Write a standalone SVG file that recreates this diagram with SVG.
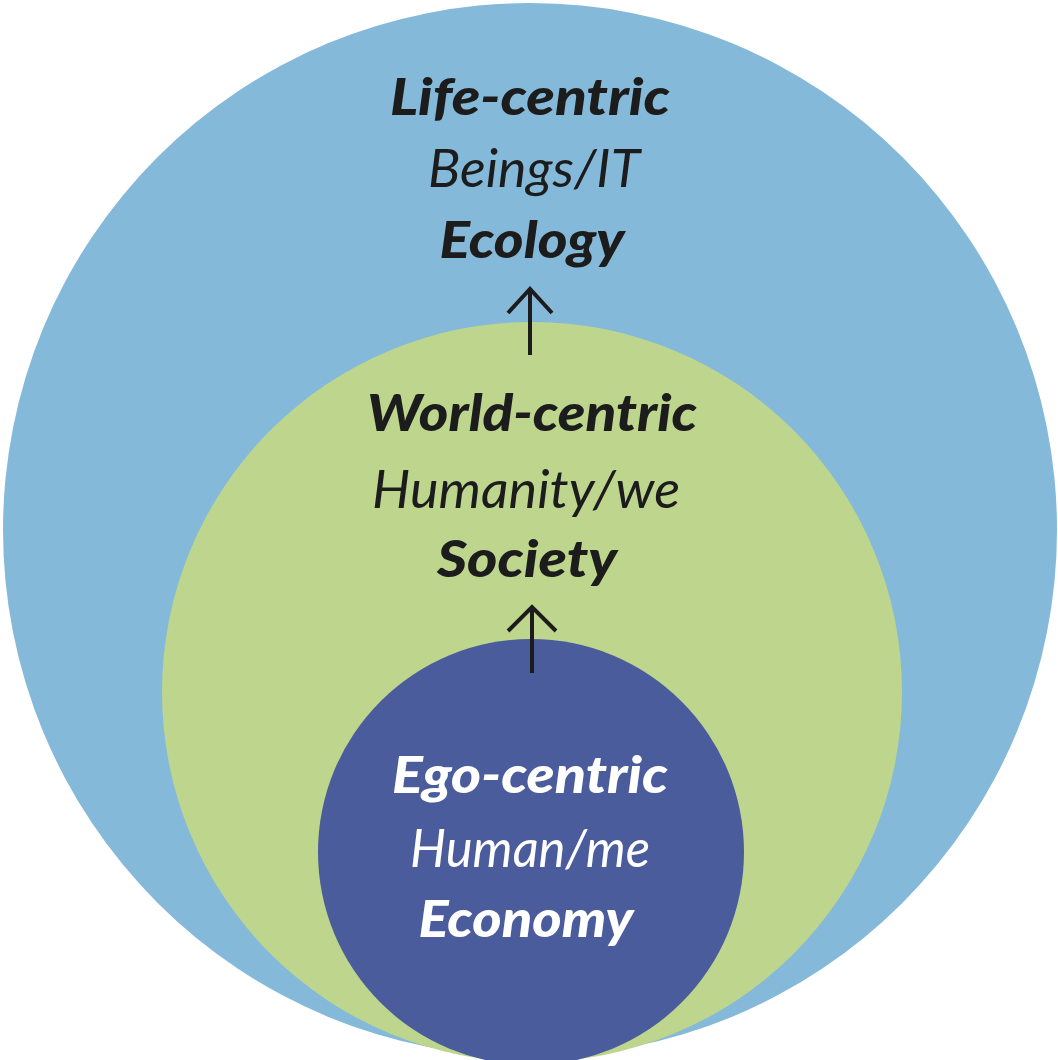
<svg xmlns="http://www.w3.org/2000/svg" width="1058" height="1060" viewBox="0 0 1058 1060">
<defs>
<style>
.t{font-family:"Lato","Open Sans","Liberation Sans",sans-serif;font-style:italic;text-anchor:middle;font-size:52px}
.b{font-weight:900}
.r{font-weight:400}
.dk{fill:#1c1c1c}
.wh{fill:#ffffff}
.arrow{stroke:#1c1c1c;stroke-width:4;fill:none;stroke-linecap:butt}
</style>
</defs>
<rect width="1058" height="1060" fill="#ffffff"/>
<g id="life">
<circle cx="530" cy="530" r="527" fill="#85b9da"/>
<text class="t b dk" x="530" y="115" textLength="280" lengthAdjust="spacingAndGlyphs">Life-centric</text>
<text class="t r dk" x="534" y="187" textLength="212" lengthAdjust="spacingAndGlyphs">Beings/IT</text>
<text class="t b dk" x="532" y="258" textLength="185" lengthAdjust="spacingAndGlyphs">Ecology</text>
</g>
<g id="world">
<circle cx="532" cy="692" r="370" fill="#bdd58d"/>
<text class="t b dk" x="532" y="431" textLength="330" lengthAdjust="spacingAndGlyphs">World-centric</text>
<text class="t r dk" x="526" y="508" textLength="308" lengthAdjust="spacingAndGlyphs">Humanity/we</text>
<text class="t b dk" x="527" y="577" textLength="180" lengthAdjust="spacingAndGlyphs">Society</text>
</g>
<g id="ego">
<circle cx="531" cy="852" r="213" fill="#4a5c9b"/>
<text class="t b wh" x="530" y="793" textLength="276" lengthAdjust="spacingAndGlyphs">Ego-centric</text>
<text class="t r wh" x="530" y="867" textLength="240" lengthAdjust="spacingAndGlyphs">Human/me</text>
<text class="t b wh" x="526" y="937" textLength="215" lengthAdjust="spacingAndGlyphs">Economy</text>
</g>
<g id="connectors">
<path class="arrow" d="M530 355 V288 M508 313 L530 289 L552 313"/>
<path class="arrow" d="M532 673 V606 M508 631 L532 607 L556 631"/>
</g>
</svg>
